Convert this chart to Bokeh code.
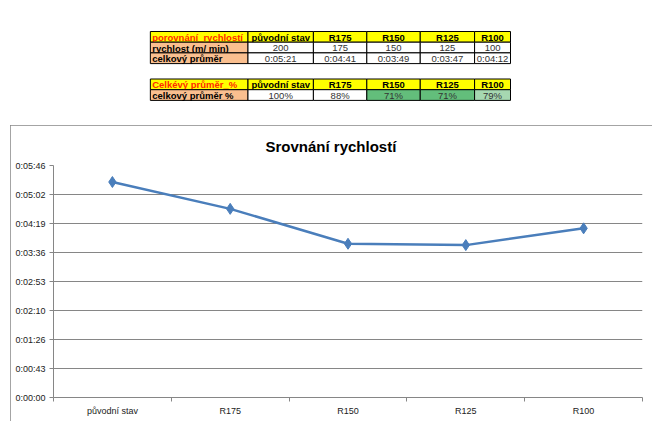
from bokeh.plotting import figure
from bokeh.models import Range1d, FixedTicker, CustomJSTickFormatter
from bokeh.layouts import column
from bokeh.core.properties import value
from bokeh.embed import file_html
from bokeh.resources import INLINE

# ---------------- data ----------------
categories = ["původní stav", "R175", "R150", "R125", "R100"]
speeds = [200, 175, 150, 125, 100]
avg_seconds = [321, 281, 229, 227, 252]
pct = [100, 88, 71, 71, 79]
pct_colors = ["#FFFFFF", "#FFFFFF", "#63BE7B", "#63BE7B", "#A6D8B1"]
table1_header = "porovnání_rychlostí"
table1_rows = ["rychlost (m/ min)", "celkový průměr"]
table2_header = "Celkévý průměr_%"
table2_rows = ["celkový průměr %"]
chart_title = "Srovnání rychlostí"
y_max_seconds = 345.6
y_step_seconds = 43.2


def hms(s):
    s = int(round(s))
    return f"{s // 3600}:{(s % 3600) // 60:02d}:{s % 60:02d}"


FONT = "Liberation Sans"
YELLOW = "#FFFF00"
PEACH = "#FABF8F"
HEAD_RED = "#FF2A00"

# ---------------- table figure ----------------
col_edges = [116, 222, 293, 351, 409, 468, 507]
t1_rows = [31, 41.7, 52.4, 63.1]
t2_rows = [78.5, 89.2, 99.9]

tf = figure(width=672, height=112, x_range=Range1d(0, 672), y_range=Range1d(112, 0),
            output_backend="svg", toolbar_location=None, min_border=0,
            x_axis_location=None, y_axis_location=None, outline_line_color=None)
tf.xgrid.visible = False
tf.ygrid.visible = False


def cell(x0, x1, y0, y1, fill, text, align, color, bold):
    tf.quad(left=[x0], right=[x1], top=[y0], bottom=[y1], fill_color=fill,
            line_color="#000000", line_width=1)
    tx = x0 + 2 if align == "left" else (x0 + x1) / 2
    tf.text(x=[tx], y=[(y0 + y1) / 2 + 0.5], text=[text], text_align=align,
            text_baseline="middle", text_font=value(FONT), text_font_size="9.5px",
            text_font_style="bold" if bold else "normal", text_color=color)


def table(rows_y, header, row_labels, row_values, row_fills):
    cell(col_edges[0], col_edges[1], rows_y[0], rows_y[1], YELLOW, header, "left", HEAD_RED, True)
    for i, c in enumerate(categories):
        cell(col_edges[i + 1], col_edges[i + 2], rows_y[0], rows_y[1], YELLOW, c, "center", "#000000", True)
    for r, lab in enumerate(row_labels):
        y0, y1 = rows_y[r + 1], rows_y[r + 2]
        cell(col_edges[0], col_edges[1], y0, y1, PEACH, lab, "left", "#000000", True)
        for i in range(len(categories)):
            cell(col_edges[i + 1], col_edges[i + 2], y0, y1, row_fills[r][i],
                 row_values[r][i], "center", "#333333", False)


table(t1_rows, table1_header, table1_rows,
      [[str(v) for v in speeds], [hms(v) for v in avg_seconds]],
      [["#FFFFFF"] * 5, ["#FFFFFF"] * 5])
table(t2_rows, table2_header, table2_rows,
      [[f"{v}%" for v in pct]],
      [pct_colors])

# ---------------- chart figure ----------------
n = len(categories)
xs = [i + 0.5 for i in range(n)]
y_ticks = [i * y_step_seconds for i in range(int(round(y_max_seconds / y_step_seconds)) + 1)]

p = figure(width=642, height=296, x_range=Range1d(0, n), y_range=Range1d(0, y_max_seconds),
           output_backend="svg", toolbar_location=None,
           min_border_left=43, min_border_right=10, min_border_top=40, min_border_bottom=24,
           outline_line_color=None, margin=(13, 0, 0, 10))
p.styles = {"outline": "1px solid #868686", "outline-offset": "-1px"}

p.title.text = chart_title
p.title.align = "left"
p.title.text_font = FONT
p.title.text_font_size = "15px"
p.title.text_font_style = "bold"
p.title.text_color = "#000000"
p.title.offset = 212
p.title.standoff = 21

# y axis
p.yaxis.ticker = FixedTicker(ticks=y_ticks)
p.yaxis.formatter = CustomJSTickFormatter(code="""
const s = Math.round(tick);
const h = Math.floor(s / 3600);
const m = Math.floor((s % 3600) / 60);
const sec = s % 60;
return h + ":" + String(m).padStart(2, "0") + ":" + String(sec).padStart(2, "0");
""")
p.yaxis.axis_line_color = "#868686"
p.yaxis.major_tick_line_color = "#868686"
p.yaxis.major_tick_out = 4
p.yaxis.major_tick_in = 0
p.yaxis.minor_tick_line_color = None
p.yaxis.major_label_text_font = FONT
p.yaxis.major_label_text_font_size = "9px"
p.yaxis.major_label_text_color = "#222222"
p.yaxis.major_label_standoff = 4

# x axis
p.xaxis.ticker = FixedTicker(ticks=xs, minor_ticks=list(range(n + 1)))
p.xaxis.formatter = CustomJSTickFormatter(args=dict(names=categories),
                                          code="return names[Math.floor(tick)];")
p.xaxis.axis_line_color = "#868686"
p.xaxis.major_tick_line_color = None
p.xaxis.minor_tick_line_color = "#868686"
p.xaxis.minor_tick_out = 4
p.xaxis.minor_tick_in = 0
p.xaxis.major_label_text_font = FONT
p.xaxis.major_label_text_font_size = "9px"
p.xaxis.major_label_text_color = "#222222"
p.xaxis.major_label_standoff = 2

p.xgrid.visible = False
p.ygrid.ticker = FixedTicker(ticks=y_ticks)
p.ygrid.grid_line_color = "#868686"
p.ygrid.grid_line_width = 1

p.line(xs, avg_seconds, line_color="#4A7EBB", line_width=2.5)
p.scatter(xs, avg_seconds, marker="diamond", size=11, fill_color="#4A7EBB", line_color="#4A7EBB")

layout = column(tf, p)
open("out.html", "w").write(file_html(layout, INLINE))
